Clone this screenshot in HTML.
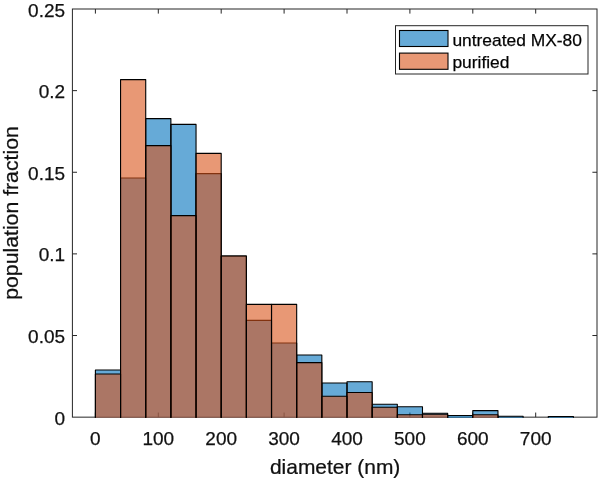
<!DOCTYPE html>
<html><head><meta charset="utf-8"><title>histogram</title>
<style>html,body{margin:0;padding:0;background:#fff}svg{display:block}</style></head>
<body>
<svg width="600" height="480" viewBox="0 0 600 480">
<rect width="600" height="480" fill="#fff"/>
<g stroke="#262626" stroke-width="1" fill="none">
<rect x="72.4" y="9.0" width="524.6" height="408.15"/>
<path d="M95.40 417.15v-4.6M95.40 9.0v4.6"/>
<path d="M158.30 417.15v-4.6M158.30 9.0v4.6"/>
<path d="M221.20 417.15v-4.6M221.20 9.0v4.6"/>
<path d="M284.10 417.15v-4.6M284.10 9.0v4.6"/>
<path d="M347.00 417.15v-4.6M347.00 9.0v4.6"/>
<path d="M409.90 417.15v-4.6M409.90 9.0v4.6"/>
<path d="M472.80 417.15v-4.6M472.80 9.0v4.6"/>
<path d="M535.70 417.15v-4.6M535.70 9.0v4.6"/>
<path d="M72.4 335.52h4.6M597.0 335.52h-4.6"/>
<path d="M72.4 253.89h4.6M597.0 253.89h-4.6"/>
<path d="M72.4 172.26h4.6M597.0 172.26h-4.6"/>
<path d="M72.4 90.63h4.6M597.0 90.63h-4.6"/>
</g>
<g fill="#0072BD" fill-opacity="0.6" stroke="none">
<rect x="95.40" y="370" width="25.16" height="47.80"/>
<rect x="120.56" y="178" width="25.16" height="239.80"/>
<rect x="145.72" y="118.6" width="25.16" height="299.20"/>
<rect x="170.88" y="124.4" width="25.16" height="293.40"/>
<rect x="196.04" y="173.6" width="25.16" height="244.20"/>
<rect x="221.20" y="256" width="25.16" height="161.80"/>
<rect x="246.36" y="320.4" width="25.16" height="97.40"/>
<rect x="271.52" y="343" width="25.16" height="74.80"/>
<rect x="296.68" y="355" width="25.16" height="62.80"/>
<rect x="321.84" y="383" width="25.16" height="34.80"/>
<rect x="347.00" y="381.7" width="25.16" height="36.10"/>
<rect x="372.16" y="404.2" width="25.16" height="13.60"/>
<rect x="397.32" y="406.8" width="25.16" height="11.00"/>
<rect x="422.48" y="413.3" width="25.16" height="4.50"/>
<rect x="447.64" y="415.5" width="25.16" height="2.30"/>
<rect x="472.80" y="410.6" width="25.16" height="7.20"/>
<rect x="497.96" y="416.3" width="25.16" height="1.50"/>
<rect x="548.28" y="416.5" width="25.16" height="1.30"/>
</g>
<g fill="none" stroke="#000" stroke-width="1.1" stroke-linejoin="round">
<path d="M95.40 417.8V370h25.16V417.8"/>
<path d="M120.56 417.8V178h25.16V417.8"/>
<path d="M145.72 417.8V118.6h25.16V417.8"/>
<path d="M170.88 417.8V124.4h25.16V417.8"/>
<path d="M196.04 417.8V173.6h25.16V417.8"/>
<path d="M221.20 417.8V256h25.16V417.8"/>
<path d="M246.36 417.8V320.4h25.16V417.8"/>
<path d="M271.52 417.8V343h25.16V417.8"/>
<path d="M296.68 417.8V355h25.16V417.8"/>
<path d="M321.84 417.8V383h25.16V417.8"/>
<path d="M347.00 417.8V381.7h25.16V417.8"/>
<path d="M372.16 417.8V404.2h25.16V417.8"/>
<path d="M397.32 417.8V406.8h25.16V417.8"/>
<path d="M422.48 417.8V413.3h25.16V417.8"/>
<path d="M447.64 417.8V415.5h25.16V417.8"/>
<path d="M472.80 417.8V410.6h25.16V417.8"/>
<path d="M497.96 417.8V416.3h25.16V417.8"/>
<path d="M548.28 417.8V416.5h25.16V417.8"/>
</g>
<g fill="#D95319" fill-opacity="0.6" stroke="none">
<rect x="95.40" y="374" width="25.16" height="43.80"/>
<rect x="120.56" y="79.6" width="25.16" height="338.20"/>
<rect x="145.72" y="145.6" width="25.16" height="272.20"/>
<rect x="170.88" y="215.6" width="25.16" height="202.20"/>
<rect x="196.04" y="153.4" width="25.16" height="264.40"/>
<rect x="221.20" y="256" width="25.16" height="161.80"/>
<rect x="246.36" y="304.4" width="25.16" height="113.40"/>
<rect x="271.52" y="304.4" width="25.16" height="113.40"/>
<rect x="296.68" y="362.6" width="25.16" height="55.20"/>
<rect x="321.84" y="396.2" width="25.16" height="21.60"/>
<rect x="347.00" y="392.5" width="25.16" height="25.30"/>
<rect x="372.16" y="407.2" width="25.16" height="10.60"/>
<rect x="397.32" y="414.7" width="25.16" height="3.10"/>
<rect x="422.48" y="414.3" width="25.16" height="3.50"/>
<rect x="472.80" y="414.7" width="25.16" height="3.10"/>
</g>
<g fill="none" stroke="#000" stroke-width="1.1" stroke-linejoin="round">
<path d="M95.40 417.8V374h25.16V417.8"/>
<path d="M120.56 417.8V79.6h25.16V417.8"/>
<path d="M145.72 417.8V145.6h25.16V417.8"/>
<path d="M170.88 417.8V215.6h25.16V417.8"/>
<path d="M196.04 417.8V153.4h25.16V417.8"/>
<path d="M221.20 417.8V256h25.16V417.8"/>
<path d="M246.36 417.8V304.4h25.16V417.8"/>
<path d="M271.52 417.8V304.4h25.16V417.8"/>
<path d="M296.68 417.8V362.6h25.16V417.8"/>
<path d="M321.84 417.8V396.2h25.16V417.8"/>
<path d="M347.00 417.8V392.5h25.16V417.8"/>
<path d="M372.16 417.8V407.2h25.16V417.8"/>
<path d="M397.32 417.8V414.7h25.16V417.8"/>
<path d="M422.48 417.8V414.3h25.16V417.8"/>
<path d="M472.80 417.8V414.7h25.16V417.8"/>
</g>
<rect x="395.5" y="25.7" width="192.5" height="48.3" fill="#fff" stroke="#262626" stroke-width="1"/>
<rect x="399.5" y="30.5" width="48.5" height="16" fill="#0072BD" fill-opacity="0.6" stroke="#000" stroke-width="1.1"/>
<rect x="399.5" y="53.1" width="48.5" height="16.2" fill="#D95319" fill-opacity="0.6" stroke="#000" stroke-width="1.1"/>
<g font-family="'Liberation Sans', Arial, sans-serif" fill="#111" stroke="#111" stroke-width="0.25">
<text x="95.40" y="445" font-size="19.0" text-anchor="middle">0</text>
<text x="158.30" y="445" font-size="19.0" text-anchor="middle">100</text>
<text x="221.20" y="445" font-size="19.0" text-anchor="middle">200</text>
<text x="284.10" y="445" font-size="19.0" text-anchor="middle">300</text>
<text x="347.00" y="445" font-size="19.0" text-anchor="middle">400</text>
<text x="409.90" y="445" font-size="19.0" text-anchor="middle">500</text>
<text x="472.80" y="445" font-size="19.0" text-anchor="middle">600</text>
<text x="535.70" y="445" font-size="19.0" text-anchor="middle">700</text>
<text x="65.1" y="424.65" font-size="19.0" text-anchor="end">0</text>
<text x="65.1" y="343.02" font-size="19.0" text-anchor="end">0.05</text>
<text x="65.1" y="261.39" font-size="19.0" text-anchor="end">0.1</text>
<text x="65.1" y="179.76" font-size="19.0" text-anchor="end">0.15</text>
<text x="65.1" y="98.13" font-size="19.0" text-anchor="end">0.2</text>
<text x="65.1" y="16.50" font-size="19.0" text-anchor="end">0.25</text>
<text transform="translate(335.15 473.6) scale(1.043 1)" font-size="20.1" text-anchor="middle">diameter (nm)</text>
<text transform="translate(17.6 213.0) rotate(-90) scale(1.012 1)" font-size="21.0" text-anchor="middle">population fraction</text>
<text x="452.4" y="45.8" font-size="17.4" fill="#000">untreated MX-80</text>
<text x="452.4" y="68.4" font-size="17.4" fill="#000">purified</text>
</g>
</svg>
</body></html>
